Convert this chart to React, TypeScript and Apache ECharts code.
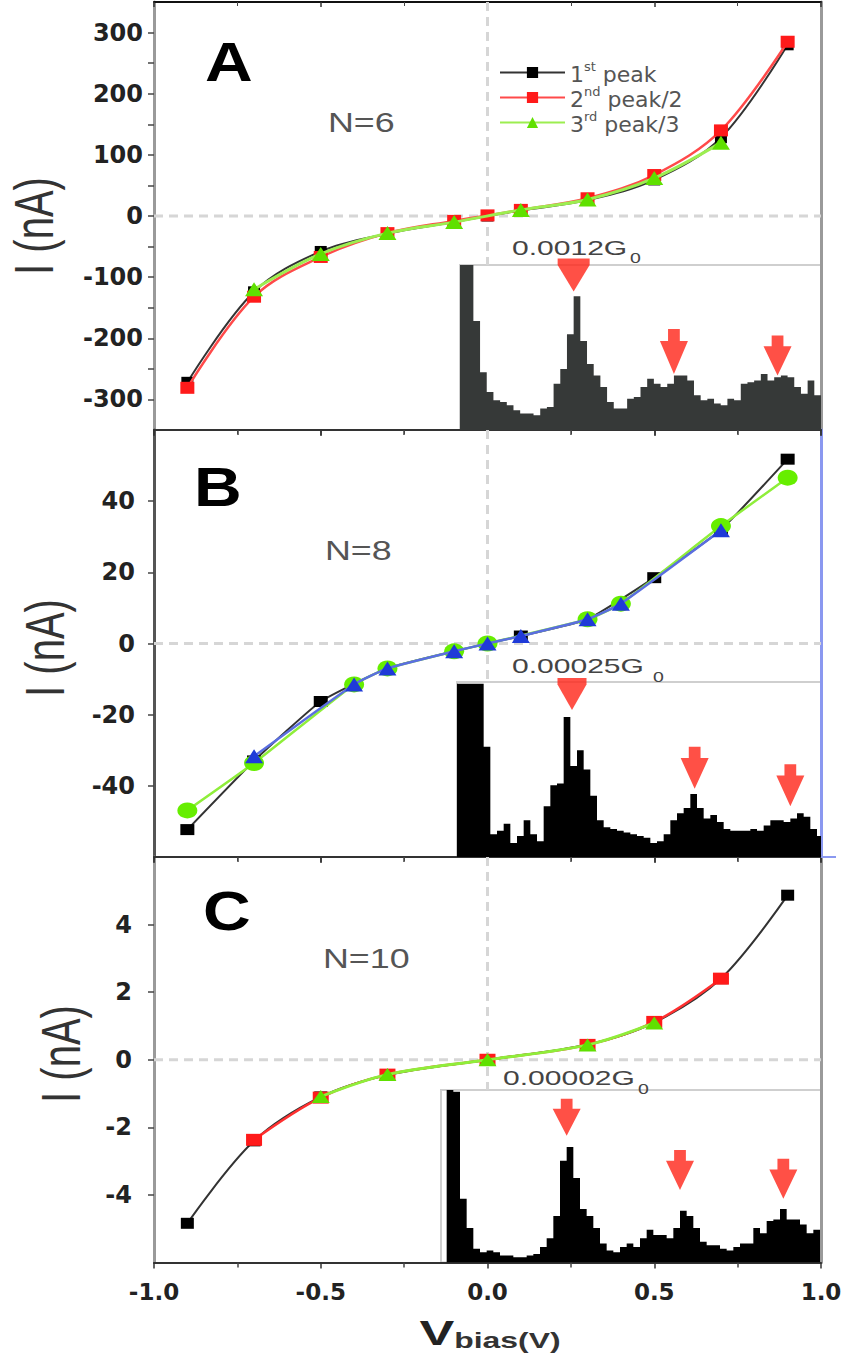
import React, { useEffect, useRef } from 'react';
import * as echarts from 'echarts';

// ---------- Panel A (N=6) ----------
const V_A = [-0.9, -0.7, -0.5, -0.3, -0.1, 0, 0.1, 0.3, 0.5, 0.7, 0.9];
const A_PEAK1 = [-272, -124, -58, -29, -10, 0, 9, 26, 59, 128, 280];
const A_PEAK2 = [-281, -132, -67, -28, -8, 1, 10, 29, 67, 140, 285];
const V_A3 = [-0.7, -0.5, -0.3, -0.1, 0.1, 0.3, 0.5, 0.7];
const A_PEAK3 = [-120, -62, -28, -10, 10, 27, 62, 120];

// ---------- Panel B (N=8) ----------
const V_B1 = [-0.9, -0.7, -0.5, -0.3, -0.1, 0, 0.1, 0.3, 0.5, 0.7, 0.9];
const B_PEAK1 = [-52.3, -33, -16.3, -7, -2.2, 0, 2.1, 6.8, 18.5, 32, 51.8];
const V_B2 = [-0.9, -0.7, -0.4, -0.3, -0.1, 0, 0.3, 0.4, 0.7, 0.9];
const B_PEAK2 = [-46.9, -33.6, -11.5, -7, -2.2, 0, 6.8, 11.2, 33, 46.6];
const V_B3 = [-0.7, -0.4, -0.3, -0.1, 0, 0.1, 0.3, 0.4, 0.7];
const B_PEAK3 = [-31.7, -11.5, -7, -2.2, 0, 2.1, 6.8, 11.2, 31.8];

// ---------- Panel C (N=10) ----------
const V_C1 = [-0.9, -0.7, -0.5, -0.3, 0, 0.3, 0.5, 0.7, 0.9];
const C_PEAK1 = [-4.84, -2.4, -1.1, -0.45, 0, 0.45, 1.1, 2.4, 4.87];
const V_C2 = [-0.7, -0.5, -0.3, 0, 0.3, 0.5, 0.7];
const C_PEAK2 = [-2.37, -1.12, -0.44, 0, 0.44, 1.12, 2.4];
const V_C3 = [-0.5, -0.3, 0, 0.3, 0.5];
const C_PEAK3 = [-1.09, -0.44, 0, 0.44, 1.09];

// ---------- Conductance histograms (insets, relative counts) ----------
const HIST_A = [100, 100, 66, 35, 23, 18, 17, 15, 12, 10, 10, 9, 13, 14, 28, 37, 58, 81, 54, 40, 33, 26, 17, 13, 13, 19, 20, 26, 31, 28, 26, 28, 33, 33, 30, 21, 18, 19, 16, 15, 19, 18, 28, 29, 30, 34, 30, 32, 33, 32, 26, 22, 30, 21];
const HIST_B = [99, 99, 99, 99, 63, 13, 15, 19, 8, 12, 21, 13, 9, 29, 41, 42, 80, 52, 61, 50, 35, 21, 17, 16, 15, 14, 13, 12, 11, 8, 9, 13, 21, 25, 28, 36, 28, 22, 24, 20, 16, 15, 15, 15, 16, 15, 18, 21, 21, 20, 22, 25, 23, 16, 12];
const HIST_C = [100, 99, 37, 20, 8, 6, 7, 6, 4, 4, 3, 3, 4, 5, 9, 14, 27, 59, 67, 49, 31, 27, 20, 11, 7, 6, 9, 11, 9, 14, 19, 16, 16, 14, 20, 30, 27, 20, 12, 10, 10, 8, 7, 9, 11, 11, 20, 17, 24, 25, 31, 25, 25, 22, 17, 19];

// arrow positions (bin, tip height)
const ARROW_A_X = [17, 32, 47.5];
const ARROW_A_TIP = [84, 34, 33];
const ARROW_B_X = [17.25, 35.65, 50];
const ARROW_B_TIP = [84, 39, 29];
const ARROW_C_X = [18, 35, 50.5];
const ARROW_C_TIP = [73.5, 42, 37];

// tick / label texts
const PANEL_LETTERS = ['A', 'B', 'C'];
const PANEL_N = ['N=6', 'N=8', 'N=10'];
const INSET_LABELS = ['0.0012G', '0.00025G', '0.00002G'];
const LEGEND_NAMES = ['1st peak', '2nd peak/2', '3rd peak/3'];

// ---------- styles ----------
const SANS = "'Liberation Sans', Arial, sans-serif";
const DEJAVU = "'DejaVu Sans', sans-serif";
const ARROW = 'path://M29,0L71,0L71,27L100,27L50,100L0,27L29,27Z';
const TRI = 'path://M0,0L100,0L100,20L50,100L0,20Z';
const ARROW_STYLE_A = [{ s: TRI, w: 32, h: 33 }, { s: ARROW, w: 28, h: 45 }, { s: ARROW, w: 28, h: 40 }];
const ARROW_STYLE_B = [{ s: TRI, w: 29, h: 32 }, { s: ARROW, w: 28, h: 42 }, { s: ARROW, w: 28, h: 42 }];
const ARROW_STYLE_C = [{ s: ARROW, w: 28, h: 37 }, { s: ARROW, w: 28, h: 40 }, { s: ARROW, w: 28, h: 40 }];

const zip = (xs: number[], ys: number[]) => xs.map((x, i) => [x, ys[i]]);
const histData = (h: number[]) => h.map((v, i) => [i, v]).concat([[h.length, h[h.length - 1]]]);

const GRID_LEFT = 154;
const GRID_W = 667;
const MAIN = [
  { top: 2, height: 428, min: -350, max: 350, interval: 50, margin: 11, leftColor: '#9a9a9a', rightColor: '#9a9a9a', zeroEnd: -80 },
  { top: 430, height: 427, min: -60, max: 60, interval: 20, margin: 19, leftColor: '#555', rightColor: '#8a98f0', zeroEnd: -10.7 },
  { top: 857, height: 405.5, min: -6, max: 6, interval: 2, margin: 22, leftColor: '#9a9a9a', rightColor: '#9a9a9a', zeroEnd: -0.89 },
];
const INSETS = [
  { left: 460, top: 265, height: 165, min: 0, max: 54, color: '#363938' },
  { left: 457, top: 682, height: 175, min: 0, max: 54.6, color: '#000' },
  { left: 441, top: 1090, height: 172.5, min: -0.85, max: 56.15, color: '#000' },
];

function buildOption() {
  const grid: any[] = [];
  const xAxis: any[] = [];
  const yAxis: any[] = [];
  MAIN.forEach((p, i) => {
    grid.push({ left: GRID_LEFT, width: GRID_W, top: p.top, height: p.height, show: false });
    xAxis.push({
      type: 'value', gridIndex: i, min: -1, max: 1, interval: 0.5, position: 'bottom',
      axisLine: { show: true, onZero: false, lineStyle: { color: '#333', width: 2 } },
      axisTick: { show: true, length: 6, lineStyle: { color: '#333', width: 1.5 } },
      minorTick: { show: true, splitNumber: 2, length: 5, lineStyle: { color: '#444', width: 1.5 } },
      splitLine: { show: false },
      axisLabel: {
        show: i === 2, margin: 18, fontFamily: DEJAVU, fontWeight: 'bold', fontSize: 23, color: '#222',
        formatter: (v: number) => v.toFixed(1),
      },
    });
    xAxis.push({
      type: 'value', gridIndex: i, min: -1, max: 1, interval: 0.5, position: 'top',
      axisLine: { show: true, onZero: false, lineStyle: { color: i === 0 ? '#111' : '#333', width: 2 } },
      axisTick: { show: true, inside: true, length: 5, lineStyle: { color: '#333', width: 1.5 } },
      minorTick: { show: true, splitNumber: 2, length: 4, lineStyle: { color: '#444' } },
      splitLine: { show: false }, axisLabel: { show: false },
    });
    yAxis.push({
      type: 'value', gridIndex: i, min: p.min, max: p.max, interval: p.interval, position: 'left',
      axisLine: { show: true, onZero: false, lineStyle: { color: p.leftColor, width: 3 } },
      axisTick: { show: true, length: 6, lineStyle: { color: '#444', width: 1.5 } },
      splitLine: { show: false },
      axisLabel: {
        margin: p.margin, fontFamily: DEJAVU, fontWeight: 'bold', fontSize: 24, color: '#222',
        showMinLabel: false, showMaxLabel: false,
        formatter: (v: number) => (i === 0 && v % 100 !== 0 ? '' : String(v)),
      },
    });
    yAxis.push({
      type: 'value', gridIndex: i, min: p.min, max: p.max, interval: p.interval, position: 'right',
      axisLine: { show: true, onZero: false, lineStyle: { color: p.rightColor, width: 3 } },
      axisTick: { show: false }, axisLabel: { show: false }, splitLine: { show: false },
    });
  });
  INSETS.forEach((p, k) => {
    grid.push({
      left: p.left, right: 845 - (GRID_LEFT + GRID_W), top: p.top, height: p.height,
      show: true, backgroundColor: '#fff', borderColor: '#cfcfcf', borderWidth: 2,
    });
    xAxis.push({ type: 'value', gridIndex: 3 + k, min: p.min, max: p.max, show: false });
    yAxis.push({ type: 'value', gridIndex: 3 + k, min: 0, max: 100, show: false });
  });

  const lineSeries = (name: string, xi: number, data: number[][], lineColor: string, markColor: string,
    symbol: string, size: number[], width: number, smooth: number, z = 3) => ({
    name, type: 'line', xAxisIndex: xi, yAxisIndex: xi, data, smooth,
    symbol, symbolSize: size, showSymbol: true, z,
    lineStyle: { color: lineColor, width },
    itemStyle: { color: markColor, borderWidth: 0 },
    emphasis: { disabled: true },
  });
  const zeroSeries = (xi: number, data: number[][]) => ({
    type: 'line', xAxisIndex: xi, yAxisIndex: xi, data, symbol: 'none', z: 1,
    lineStyle: { color: '#d6d6d6', width: 3, type: [9, 6] }, silent: true,
  });

  const series: any[] = [];
  // zero reference lines
  MAIN.forEach((p, i) => {
    series.push(zeroSeries(i * 2, [[-1, 0], [1, 0]]));
    series.push(zeroSeries(i * 2, [[0, p.max], [0, p.zeroEnd]]));
  });
  // Panel A
  series.push(lineSeries(LEGEND_NAMES[0], 0, zip(V_A, A_PEAK1), '#333', '#000', 'rect', [12, 11], 2, 0.35, 3));
  series.push(lineSeries(LEGEND_NAMES[1], 0, zip(V_A, A_PEAK2), '#ff4a4a', '#ff1a1a', 'rect', [14, 12], 2.5, 0.35, 4));
  series.push(lineSeries(LEGEND_NAMES[2], 0, zip(V_A3, A_PEAK3), '#9cee50', '#5fe000', 'triangle', [18, 14], 3, 0.35, 5));
  // Panel B
  series.push(lineSeries('N=8 1st peak', 2, zip(V_B1, B_PEAK1), '#333', '#000', 'rect', [14, 11], 2, 0.15, 3));
  series.push(lineSeries('N=8 2nd peak/2', 2, zip(V_B2, B_PEAK2), '#8fee3a', '#66ee00', 'circle', [20, 16], 2.5, 0.15, 4));
  series.push(lineSeries('N=8 3rd peak/3', 2, zip(V_B3, B_PEAK3), '#5a6ee0', '#1f3ad8', 'triangle', [18, 14], 2.5, 0.15, 5));
  // Panel C
  series.push(lineSeries('N=10 1st peak', 4, zip(V_C1, C_PEAK1), '#333', '#000', 'rect', [13, 11], 2, 0.35, 3));
  series.push(lineSeries('N=10 2nd peak/2', 4, zip(V_C2, C_PEAK2), '#ff3030', '#ff1a1a', 'rect', [16, 12], 2.5, 0.35, 4));
  series.push(lineSeries('N=10 3rd peak/3', 4, zip(V_C3, C_PEAK3), '#8fee3a', '#5fe000', 'triangle', [18, 13], 3, 0.35, 5));

  // insets
  const hists = [HIST_A, HIST_B, HIST_C];
  const arrowsX = [ARROW_A_X, ARROW_B_X, ARROW_C_X];
  const arrowsTip = [ARROW_A_TIP, ARROW_B_TIP, ARROW_C_TIP];
  const arrowStyles = [ARROW_STYLE_A, ARROW_STYLE_B, ARROW_STYLE_C];
  INSETS.forEach((p, k) => {
    series.push({
      type: 'line', xAxisIndex: 6 + k, yAxisIndex: 6 + k, data: histData(hists[k]), step: 'end',
      symbol: 'none', lineStyle: { width: 0, color: p.color }, areaStyle: { color: p.color, opacity: 1 },
      silent: true, z: 2,
    });
    series.push({
      type: 'scatter', xAxisIndex: 6 + k, yAxisIndex: 6 + k, silent: true, z: 3, clip: false,
      itemStyle: { color: '#ff2418' },
      data: arrowsX[k].map((x, j) => ({
        value: [x, arrowsTip[k][j]],
        symbol: arrowStyles[k][j].s,
        symbolSize: [arrowStyles[k][j].w, arrowStyles[k][j].h],
        symbolOffset: [0, -arrowStyles[k][j].h / 2],
      })),
    });
  });

  const text = (t: string, x: number, y: number, size: number, opts: any = {}) => ({
    type: 'text', x, y, scaleX: opts.scaleX ?? 1, scaleY: opts.scaleY ?? 1, rotation: opts.rotation ?? 0, z: 100,
    style: {
      text: t, fontSize: size, fontFamily: SANS, fontWeight: opts.bold ? 'bold' : 'normal',
      fill: opts.color ?? '#333', align: opts.align ?? 'left', verticalAlign: 'middle',
    },
  });
  const letterPos = [[205, 62], [194, 487], [203, 911]];
  const nPos = [[328, 122], [325, 550], [323, 958]];
  const insetPos = [[512, 248], [512, 666], [503, 1078]];
  const subPos = [[630, 258], [653, 677], [638, 1089]];
  const ylabelPos = [[33, 226], [44, 648], [60, 1054]];
  const graphic: any[] = [];
  PANEL_LETTERS.forEach((L, i) => graphic.push(text(L, letterPos[i][0], letterPos[i][1], 55, { bold: true, scaleX: 1.2, color: '#000' })));
  PANEL_N.forEach((t, i) => graphic.push(text(t, nPos[i][0], nPos[i][1], 28, { scaleX: 1.28, color: '#555' })));
  INSET_LABELS.forEach((t, i) => {
    graphic.push(text(t, insetPos[i][0], insetPos[i][1], 21, { scaleX: 1.43, color: '#444' }));
    graphic.push(text('0', subPos[i][0], subPos[i][1], 15, { scaleX: 1.3, color: '#444' }));
  });
  ylabelPos.forEach((p) => graphic.push(text('I (nA)', p[0], p[1], 40, { rotation: Math.PI / 2, scaleY: 1.4, align: 'center', color: '#333' })));
  graphic.push({
    type: 'text', x: 490, y: 1333, scaleX: 1.45, z: 100,
    style: {
      text: '{v|V}{b|bias(V)}', align: 'center', verticalAlign: 'middle',
      rich: {
        v: { fontSize: 36, fontWeight: 'bold', fontFamily: SANS, fill: '#222', verticalAlign: 'bottom' },
        b: { fontSize: 22, fontWeight: 'bold', fontFamily: SANS, fill: '#333', verticalAlign: 'bottom' },
      },
    },
  });
  graphic.push({ type: 'line', shape: { x1: 821, y1: 857, x2: 836, y2: 857 }, style: { stroke: '#8a98f0', lineWidth: 2 }, z: 100 });

  return {
    animation: false,
    backgroundColor: '#fff',
    grid, xAxis, yAxis, series, graphic,
    legend: {
      data: LEGEND_NAMES, orient: 'vertical', left: 494, top: 55, itemWidth: 65, itemHeight: 14, itemGap: 0,
      selectedMode: false,
      formatter: (name: string) => {
        const m = name.match(/^(\d)(st|nd|rd)(.*)$/);
        return m ? `{n|${m[1]}}{s|${m[2]}}{n|${m[3]}}` : name;
      },
      textStyle: {
        color: '#555', fontSize: 22, fontFamily: DEJAVU,
        rich: {
          n: { fontSize: 22, color: '#555', fontFamily: DEJAVU, lineHeight: 25, verticalAlign: 'bottom' },
          s: { fontSize: 13, color: '#555', fontFamily: DEJAVU, lineHeight: 14, verticalAlign: 'top' },
        },
      },
    },
  };
}

export default function App() {
  const ref = useRef<HTMLDivElement>(null);
  useEffect(() => {
    const chart = echarts.init(ref.current!, null, { renderer: 'svg' });
    chart.setOption(buildOption() as any);
    return () => chart.dispose();
  }, []);
  return <div ref={ref} style={{ position: 'absolute', left: 0, top: 0, width: 845, height: 1354 }} />;
}
